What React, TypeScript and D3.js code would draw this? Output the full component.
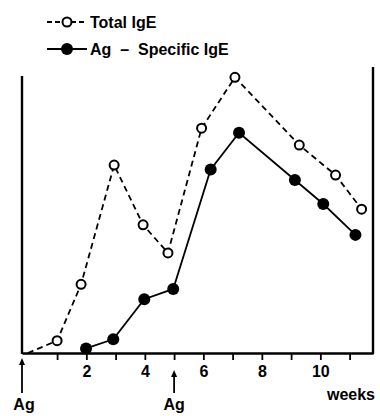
import * as d3 from 'd3';
import React, { useEffect, useRef } from 'react';

// weeks after first injection, relative IgE level (arbitrary units)
const totalWeeks = [0, 1, 1.82, 2.95, 3.94, 4.79, 5.94, 7.08, 9.28, 10.52, 11.41];
const totalValues = [0, 4.3, 24, 65.7, 44.8, 35, 78.6, 96.4, 72.7, 62.2, 50.3];

const specificWeeks = [1.99, 2.92, 3.98, 4.97, 6.25, 7.22, 9.13, 10.1, 11.2];
const specificValues = [1.6, 4.8, 18.8, 22.4, 64.2, 77, 60.5, 52.1, 41.3];

const tickWeeks = [1, 2, 3, 4, 5, 6, 7, 8, 9, 10, 11];
const labelWeeks = [2, 4, 6, 8, 10];
const injectionWeeks = [-0.2, 5];

const legendLabels = ['Total IgE', 'Ag  \u2013  Specific IgE'];

const FONT = '"Liberation Sans", Arial, Helvetica, sans-serif';

export default function App() {
  const svgRef = useRef<SVGSVGElement>(null);

  useEffect(() => {
    if (!svgRef.current) return;
    const svg = d3.select(svgRef.current);
    svg.selectAll('*').remove();

    const x = d3.scaleLinear().domain([-0.2, 11.8]).range([22, 373]);
    const y = d3.scaleLinear().domain([0, 100]).range([353, 67]);

    // frame: left axis, right axis
    svg.append('line')
      .attr('x1', x(-0.2)).attr('x2', x(-0.2))
      .attr('y1', 76).attr('y2', y(0) + 1)
      .attr('stroke', '#000').attr('stroke-width', 2.4);
    svg.append('line')
      .attr('x1', x(11.8)).attr('x2', x(11.8))
      .attr('y1', y(100)).attr('y2', y(0) + 1)
      .attr('stroke', '#000').attr('stroke-width', 2.4);

    // x axis
    const xAxis = d3.axisBottom(x)
      .tickValues(tickWeeks)
      .tickSize(7)
      .tickSizeOuter(0)
      .tickPadding(6)
      .tickFormat(d => (labelWeeks.includes(d as number) ? String(d) : ''));

    const gx = svg.append('g')
      .attr('transform', `translate(0,${y(0)})`)
      .call(xAxis);
    gx.select('.domain').attr('stroke-width', 2.6).attr('stroke', '#000');
    gx.selectAll('.tick line').attr('stroke-width', 1.8).attr('stroke', '#000');
    gx.selectAll('.tick text')
      .attr('font-family', FONT)
      .attr('font-weight', 'bold')
      .attr('font-size', 16)
      .attr('fill', '#000');

    svg.append('text')
      .attr('x', 375).attr('y', 400)
      .attr('text-anchor', 'end')
      .attr('font-family', FONT).attr('font-weight', 'bold').attr('font-size', 16)
      .text('weeks');

    // antigen injections
    injectionWeeks.forEach((w, i) => {
      const ax = x(w);
      const tip = i === 0 ? 358 : 370;
      svg.append('line')
        .attr('x1', ax).attr('x2', ax)
        .attr('y1', tip + 4).attr('y2', 393)
        .attr('stroke', '#000').attr('stroke-width', 1.8);
      svg.append('path')
        .attr('d', `M${ax},${tip} L${ax - 3},${tip + 7} L${ax + 3},${tip + 7} Z`)
        .attr('fill', '#000');
      svg.append('text')
        .attr('x', ax + (i === 0 ? 2 : 0)).attr('y', 410)
        .attr('text-anchor', 'middle')
        .attr('font-family', FONT).attr('font-weight', 'bold').attr('font-size', 16)
        .text('Ag');
    });

    const line = d3.line<[number, number]>()
      .x(d => x(d[0]))
      .y(d => y(d[1]));

    const total: [number, number][] = totalWeeks.map((w, i) => [w, totalValues[i]]);
    const specific: [number, number][] = specificWeeks.map((w, i) => [w, specificValues[i]]);

    svg.append('path')
      .datum(total)
      .attr('d', line)
      .attr('fill', 'none')
      .attr('stroke', '#000')
      .attr('stroke-width', 1.8)
      .attr('stroke-dasharray', '6,4');

    svg.append('path')
      .datum(specific)
      .attr('d', line)
      .attr('fill', 'none')
      .attr('stroke', '#000')
      .attr('stroke-width', 1.8);

    svg.append('g')
      .selectAll('circle')
      .data(total.slice(1))
      .join('circle')
      .attr('cx', d => x(d[0]))
      .attr('cy', d => y(d[1]))
      .attr('r', 4.5)
      .attr('fill', '#fff')
      .attr('stroke', '#000')
      .attr('stroke-width', 2);

    svg.append('g')
      .selectAll('circle')
      .data(specific)
      .join('circle')
      .attr('cx', d => x(d[0]))
      .attr('cy', d => y(d[1]))
      .attr('r', 6)
      .attr('fill', '#000');

    // legend
    const legend = svg.append('g');
    legendLabels.forEach((label, i) => {
      const cy = i === 0 ? 22 : 49;
      legend.append('line')
        .attr('x1', 47).attr('x2', 87)
        .attr('y1', cy).attr('y2', cy)
        .attr('stroke', '#000').attr('stroke-width', 1.8)
        .attr('stroke-dasharray', i === 0 ? '5,3' : null);
      legend.append('circle')
        .attr('cx', 67).attr('cy', cy)
        .attr('r', i === 0 ? 4.5 : 6)
        .attr('fill', i === 0 ? '#fff' : '#000')
        .attr('stroke', '#000')
        .attr('stroke-width', i === 0 ? 2 : 0);
      legend.append('text')
        .attr('x', 90).attr('y', cy + 6)
        .attr('font-family', FONT).attr('font-weight', 'bold').attr('font-size', 16)
        .attr('xml:space', 'preserve')
        .style('white-space', 'pre')
        .text(label);
    });
  }, []);

  return (
    <svg
      ref={svgRef}
      width={380}
      height={416}
      style={{ position: 'absolute', left: 0, top: 0, background: '#fff' }}
    />
  );
}
